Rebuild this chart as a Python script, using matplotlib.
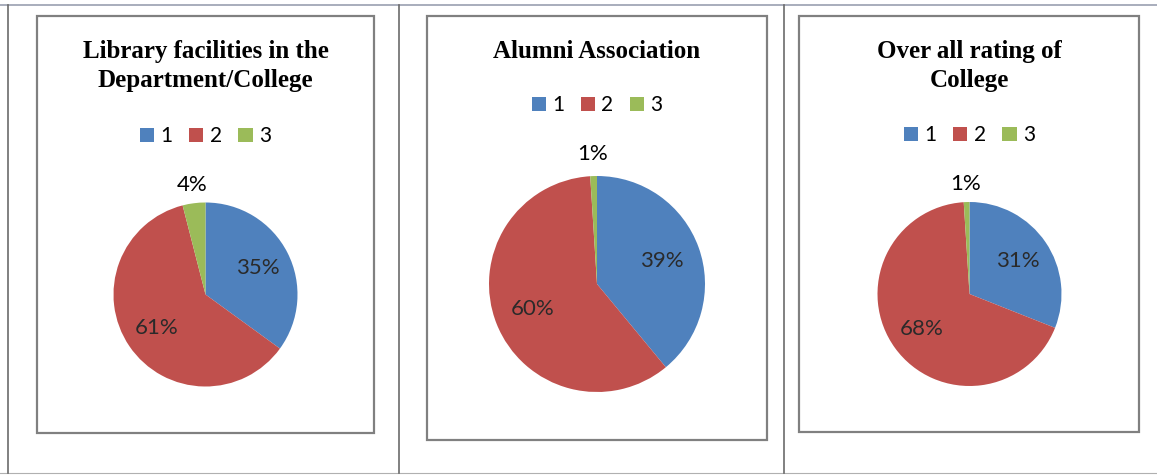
import matplotlib
matplotlib.use("Agg")
import matplotlib.pyplot as plt
import numpy as np
from matplotlib.patches import Rectangle, Patch
from matplotlib.lines import Line2D

# ---- data ----
categories = ["1", "2", "3"]
titles = ["Library facilities in the\nDepartment/College",
          "Alumni Association",
          "Over all rating of\nCollege"]
library_values = [35, 61, 4]
alumni_values = [39, 60, 1]
overall_values = [31, 68, 1]
pct_labels_library = ["35%", "61%", "4%"]
pct_labels_alumni = ["39%", "60%", "1%"]
pct_labels_overall = ["31%", "68%", "1%"]

colors = ["#4F81BD", "#C0504D", "#9BBB59"]

W, H = 1157, 475
fig = plt.figure(figsize=(W / 100, H / 100), dpi=100)
fig.patch.set_facecolor("white")

def fx(px):
    return px / W

def fy(py):
    return 1 - py / H

# ---- frame lines (cell borders) ----
line_col = "#6b6b6b"
fig.add_artist(Line2D([fx(0), fx(W)], [fy(4.5), fy(4.5)], color="#9a9fb0", lw=1.2))
fig.add_artist(Line2D([fx(0), fx(W)], [fy(472.5), fy(472.5)], color="#b0b0b0", lw=0.8))
for x in [7.5, 398.5, 783.5]:
    fig.add_artist(Line2D([fx(x), fx(x)], [fy(4.5), fy(472.5)], color=line_col, lw=1.2))

# ---- inner chart boxes ----
boxes = [(37, 16, 374, 433), (427, 16, 767, 440), (799, 16, 1139, 432)]
for (x0, y0, x1, y1) in boxes:
    fig.add_artist(Rectangle((fx(x0), fy(y1)), fx(x1) - fx(x0), fy(y0) - fy(y1),
                             fill=False, edgecolor="#808080", lw=1.6,
                             transform=fig.transFigure))

# ---- pies ----
panels = [
    dict(values=library_values, labels=pct_labels_library, title=titles[0],
         cx=205.5, cy=294.5, R=92, title_y=66, legend_y=136),
    dict(values=alumni_values, labels=pct_labels_alumni, title=titles[1],
         cx=597, cy=284, R=108, title_y=51, legend_y=105),
    dict(values=overall_values, labels=pct_labels_overall, title=titles[2],
         cx=969.5, cy=294, R=92, title_y=66, legend_y=135),
]

k = 1.45
for p in panels:
    side = 2 * k * p["R"]
    ax = fig.add_axes([fx(p["cx"] - side / 2), fy(p["cy"] + side / 2),
                       side / W, side / H])
    vals = p["values"]
    total = float(sum(vals))
    wedges, _ = ax.pie(vals, colors=colors, startangle=90, counterclock=False,
                       radius=1.0, wedgeprops=dict(linewidth=0))
    # data labels
    for w, lab, v in zip(wedges, p["labels"], vals):
        ang = np.deg2rad((w.theta1 + w.theta2) / 2)
        if v / total < 0.08:
            r = 1.2
            col = "black"
        else:
            r = 0.64
            col = "#2a2a2a"
        ax.text(r * np.cos(ang), r * np.sin(ang), lab, ha="center", va="center",
                fontsize=16, color=col, family=["Lato", "DejaVu Sans"])
    ax.set_xlim(-k, k)
    ax.set_ylim(-k, k)
    ax.set_aspect("equal")
    ax.axis("off")

    # title
    fig.text(fx(p["cx"]), fy(p["title_y"]), p["title"], ha="center", va="center",
             fontsize=18, fontweight="bold", family=["Liberation Serif"],
             linespacing=1.3)

    # legend
    handles = [Patch(facecolor=c, edgecolor="none") for c in colors]
    fig.legend(handles, categories, loc="center",
               bbox_to_anchor=(fx(p["cx"]), fy(p["legend_y"])),
               ncol=3, frameon=False,
               prop=dict(family=["Lato"], size=15),
               handlelength=0.68, handleheight=0.68, handletextpad=0.3,
               columnspacing=0.8, borderpad=0)

fig.savefig("out.png", dpi=100, facecolor="white")
